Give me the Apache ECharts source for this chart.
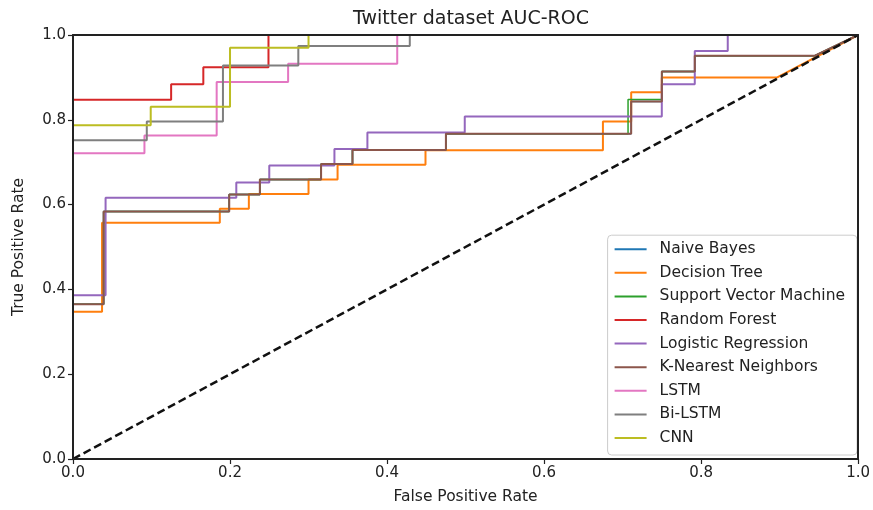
<!DOCTYPE html>
<html>
<head>
<meta charset="utf-8">
<script src="https://cdn.jsdelivr.net/npm/echarts@6/dist/echarts.min.js"></script>
<style>
  html, body { margin: 0; padding: 0; background: #fff; }
  #chart { width: 873px; height: 510px; }
</style>
</head>
<body>
<div id="chart"></div>
<script>
// ROC corner points (fpr / tpr)
var models = ['Naive Bayes', 'Decision Tree', 'Support Vector Machine', 'Random Forest',
    'Logistic Regression', 'K-Nearest Neighbors', 'LSTM', 'Bi-LSTM', 'CNN'];
var colors = ['#1f77b4', '#ff7f0e', '#2ca02c', '#d62728', '#9467bd', '#8c564b', '#e377c2', '#7f7f7f', '#bcbd22'];

var nbFpr = [0, 0, 0.039, 0.039, 0.199, 0.199, 0.238, 0.238, 0.316, 0.316, 0.356, 0.356, 0.475, 0.475, 0.711, 0.711, 0.75, 0.75, 0.792, 0.792, 0.945, 1];
var nbTpr = [0, 0.365, 0.365, 0.584, 0.584, 0.624, 0.624, 0.659, 0.659, 0.696, 0.696, 0.729, 0.729, 0.767, 0.767, 0.843, 0.843, 0.914, 0.914, 0.951, 0.951, 1];

var dtFpr = [0, 0, 0.037, 0.037, 0.187, 0.187, 0.224, 0.224, 0.300, 0.300, 0.337, 0.337, 0.449, 0.449, 0.675, 0.675, 0.711, 0.711, 0.75, 0.75, 0.897, 1];
var dtTpr = [0, 0.347, 0.347, 0.557, 0.557, 0.590, 0.590, 0.625, 0.625, 0.659, 0.659, 0.694, 0.694, 0.728, 0.728, 0.796, 0.796, 0.865, 0.865, 0.900, 0.900, 1];

var svmFpr = [0, 0, 0.039, 0.039, 0.199, 0.199, 0.238, 0.238, 0.316, 0.316, 0.356, 0.356, 0.475, 0.475, 0.707, 0.707, 0.75, 0.75, 0.792, 0.792, 0.945, 1];
var svmTpr = [0, 0.365, 0.365, 0.584, 0.584, 0.624, 0.624, 0.659, 0.659, 0.696, 0.696, 0.729, 0.729, 0.767, 0.767, 0.848, 0.848, 0.914, 0.914, 0.951, 0.951, 1];

var rfFpr = [0, 0, 0.125, 0.125, 0.166, 0.166, 0.249, 0.249, 1];
var rfTpr = [0, 0.847, 0.847, 0.884, 0.884, 0.924, 0.924, 1, 1];

var lrFpr = [0, 0, 0.0415, 0.0415, 0.208, 0.208, 0.25, 0.25, 0.333, 0.333, 0.375, 0.375, 0.499, 0.499, 0.75, 0.75, 0.792, 0.792, 0.834, 0.834, 1];
var lrTpr = [0, 0.386, 0.386, 0.616, 0.616, 0.652, 0.652, 0.692, 0.692, 0.731, 0.731, 0.770, 0.770, 0.808, 0.808, 0.884, 0.884, 0.962, 0.962, 1, 1];

var knnFpr = [0, 0, 0.039, 0.039, 0.199, 0.199, 0.238, 0.238, 0.316, 0.316, 0.356, 0.356, 0.475, 0.475, 0.711, 0.711, 0.75, 0.75, 0.792, 0.792, 0.945, 1];
var knnTpr = [0, 0.365, 0.365, 0.584, 0.584, 0.624, 0.624, 0.659, 0.659, 0.696, 0.696, 0.729, 0.729, 0.767, 0.767, 0.843, 0.843, 0.914, 0.914, 0.951, 0.951, 1];

var lstmFpr = [0, 0, 0.091, 0.091, 0.183, 0.183, 0.274, 0.274, 0.413, 0.413, 1];
var lstmTpr = [0, 0.721, 0.721, 0.763, 0.763, 0.889, 0.889, 0.932, 0.932, 1, 1];

var bilstmFpr = [0, 0, 0.094, 0.094, 0.191, 0.191, 0.287, 0.287, 0.429, 0.429, 1];
var bilstmTpr = [0, 0.752, 0.752, 0.796, 0.796, 0.928, 0.928, 0.974, 0.974, 1, 1];

var cnnFpr = [0, 0, 0.099, 0.099, 0.2, 0.2, 0.3, 0.3, 1];
var cnnTpr = [0, 0.787, 0.787, 0.831, 0.831, 0.970, 0.970, 1, 1];

var chanceFpr = [0, 1];
var chanceTpr = [0, 1];

var curves = [
    [nbFpr, nbTpr], [dtFpr, dtTpr], [svmFpr, svmTpr], [rfFpr, rfTpr], [lrFpr, lrTpr],
    [knnFpr, knnTpr], [lstmFpr, lstmTpr], [bilstmFpr, bilstmTpr], [cnnFpr, cnnTpr]
];

function pairs(xs, ys) {
    return xs.map(function (x, i) { return [x, ys[i]]; });
}

var font = 'DejaVu Sans';
var textColor = '#222';

var series = models.map(function (name, i) {
    // NB and SVM sit under KNN, a thinner stroke keeps KNN clean brown on top
    var w = (i === 0 || i === 2) ? 1.5 : 2;
    return {
        name: name,
        type: 'line',
        data: pairs(curves[i][0], curves[i][1]),
        showSymbol: false,
        symbol: 'none',
        lineStyle: { width: w, color: colors[i] },
        itemStyle: { color: colors[i] },
        animation: false
    };
});
series.push({
    name: 'chance',
    type: 'line',
    data: pairs(chanceFpr, chanceTpr),
    showSymbol: false,
    symbol: 'none',
    lineStyle: { width: 2.5, color: '#111', type: [8, 4] },
    animation: false,
    z: 3
});

function axis(name, pos) {
    return {
        type: 'value',
        min: 0,
        max: 1,
        interval: 0.2,
        z: 5,
        name: name,
        nameLocation: 'middle',
        nameGap: pos === 'x' ? 30 : 46,
        nameTextStyle: { fontFamily: font, fontSize: 15.5, color: textColor },
        axisLine: { show: true, onZero: false, lineStyle: { color: '#222', width: 2 } },
        axisTick: { show: true, length: 5, lineStyle: { color: '#222', width: 1.2 } },
        axisLabel: {
            fontFamily: font, fontSize: 15, color: textColor, margin: 7,
            formatter: function (v) { return v.toFixed(1); }
        },
        splitLine: { show: false }
    };
}

// plain frame lines for the top and right sides
function frame(pos) {
    return {
        type: 'value',
        min: 0,
        max: 1,
        position: pos,
        z: 5,
        axisLine: { show: true, onZero: false, lineStyle: { color: '#222', width: 2 } },
        axisTick: { show: false },
        axisLabel: { show: false },
        splitLine: { show: false }
    };
}

var chart = echarts.init(document.getElementById('chart'));
chart.setOption({
    backgroundColor: '#fff',
    animation: false,
    title: {
        text: 'Twitter dataset AUC-ROC',
        left: 466,
        textAlign: 'center',
        top: 5,
        textStyle: { fontFamily: font, fontSize: 19, fontWeight: 'normal', color: textColor }
    },
    grid: { left: 73, right: 13, top: 35, bottom: 50 },
    xAxis: [axis('False Positive Rate', 'x'), frame('top')],
    yAxis: [axis('True Positive Rate', 'y'), frame('right')],
    legend: {
        data: models,
        orient: 'vertical',
        right: 16,
        bottom: 55,
        padding: [6, 12, 9, 7],
        itemGap: 7.6,
        itemWidth: 32,
        itemHeight: 2,
        icon: 'rect',
        backgroundColor: '#fff',
        borderColor: '#ccc',
        borderWidth: 1,
        borderRadius: 4,
        textStyle: { fontFamily: font, fontSize: 15.5, lineHeight: 16, color: textColor, padding: [0, 0, 0, 8] }
    },
    series: series
});
</script>
</body>
</html>
